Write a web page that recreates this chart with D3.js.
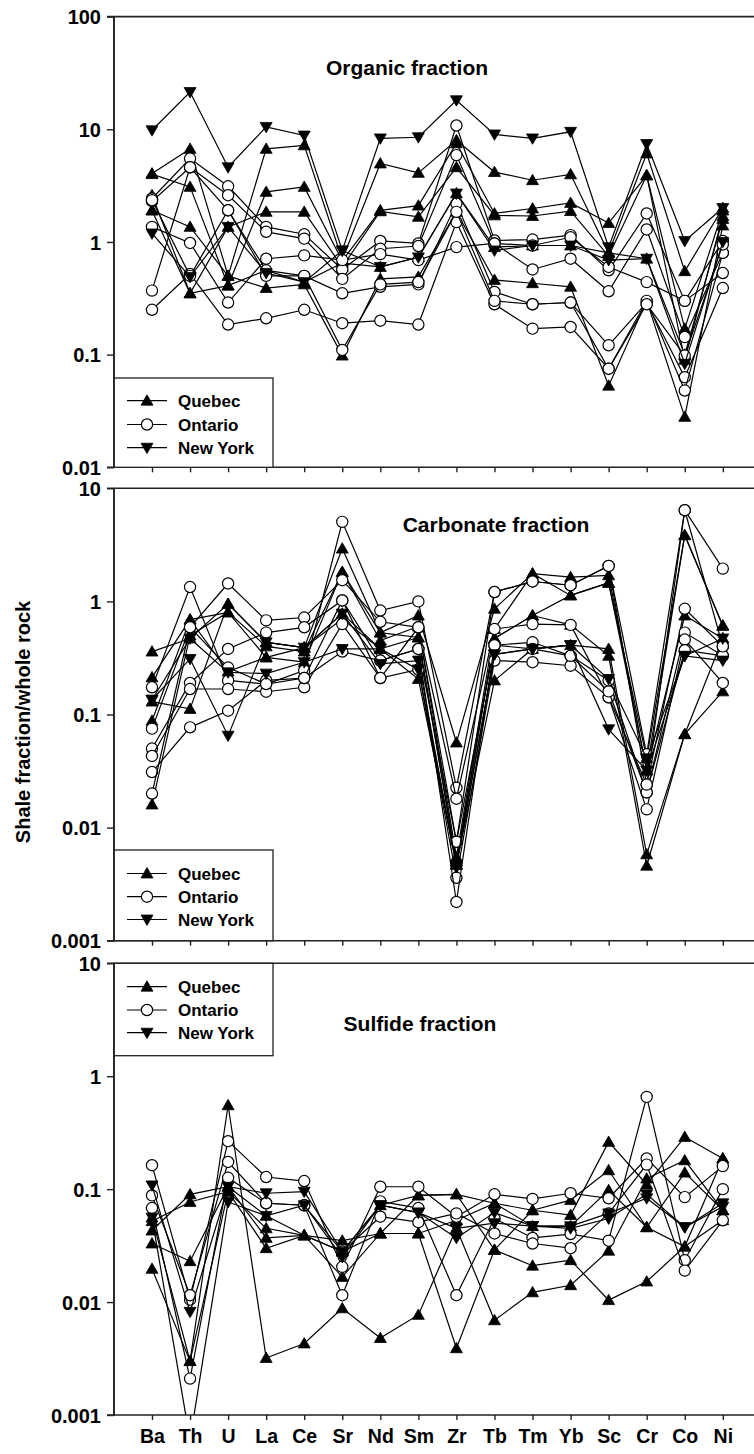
<!DOCTYPE html>
<html>
<head>
<meta charset="utf-8">
<script src="https://cdn.jsdelivr.net/npm/d3@7"></script>
<style>
  html, body { margin: 0; padding: 0; background: #fff; }
  svg { display: block; }
  text { font-family: "Liberation Sans", Arial, Helvetica, sans-serif; font-weight: bold; fill: #000; }
</style>
</head>
<body>
<svg id="chart" width="754" height="1454"></svg>
<script>
// Elements along the x axis
const elements = ["Ba","Th","U","La","Ce","Sr","Nd","Sm","Zr","Tb","Tm","Yb","Sc","Cr","Co","Ni"];

// Organic fraction: shale fraction / whole rock, one row per sample
const organicQuebec = [
  [4.05, 6.7, 0.50, 6.7, 7.2, 0.70, 4.97, 4.1, 8.0, 4.17, 3.53, 3.98, 0.80, 6.1, 0.55, 2.0],
  [4.0, 3.08, 0.41, 2.78, 3.08, 0.68, 1.91, 2.1, 7.5, 1.79, 1.98, 2.22, 1.47, 3.9, 0.17, 1.9],
  [2.6, 0.35, 1.36, 1.85, 1.85, 0.60, 1.87, 1.67, 4.6, 1.72, 1.70, 1.88, 0.75, 3.9, 0.09, 1.7],
  [1.91, 1.36, 0.50, 0.39, 0.42, 0.098, 0.47, 0.49, 1.85, 0.46, 0.43, 0.40, 0.053, 0.30, 0.028, 1.4],
  [1.9, 0.35, 0.41, 0.56, 0.44, 0.65, 0.60, 0.73, 2.7, 0.90, 0.93, 0.93, 0.80, 0.71, 0.10, 1.6]
];
const organicOntario = [
  [2.43, 5.5, 3.12, 1.36, 1.17, 0.57, 1.02, 0.97, 10.8, 1.03, 1.05, 1.15, 0.56, 1.79, 0.30, 1.02],
  [2.3, 4.6, 2.6, 1.23, 1.07, 0.47, 0.87, 0.92, 5.9, 0.97, 0.57, 0.71, 0.365, 1.29, 0.143, 0.80],
  [1.36, 0.98, 0.29, 0.71, 0.76, 0.69, 0.78, 0.69, 0.90, 0.97, 0.93, 1.10, 0.60, 0.44, 0.30, 0.53],
  [0.37, 4.6, 1.91, 0.56, 0.50, 0.35, 0.40, 0.42, 2.19, 0.36, 0.28, 0.29, 0.121, 0.29, 0.063, 0.39],
  [0.25, 0.52, 0.185, 0.21, 0.25, 0.19, 0.20, 0.185, 1.5, 0.28, 0.17, 0.176, 0.075, 0.30, 0.048, 0.80],
  [2.35, 0.50, 1.91, 0.50, 0.50, 0.11, 0.42, 0.44, 1.85, 0.30, 0.28, 0.29, 0.075, 0.28, 0.098, 0.95]
];
const organicNewYork = [
  [9.8, 21.4, 4.6, 10.5, 8.8, 0.84, 8.3, 8.5, 18.1, 9.0, 8.3, 9.5, 0.90, 7.4, 1.02, 2.0],
  [1.19, 0.49, 1.36, 0.53, 0.44, 0.84, 0.60, 0.73, 2.69, 0.84, 0.93, 0.93, 0.69, 0.71, 0.083, 1.0]
];

// Carbonate fraction
const carbonateQuebec = [
  [0.36, 0.47, 0.95, 0.435, 0.39, 2.93, 0.53, 0.75, 0.0565, 0.86, 1.76, 1.64, 1.70, 0.032, 3.85, 0.61],
  [0.213, 0.69, 0.80, 0.32, 0.29, 1.82, 0.53, 0.48, 0.005, 0.47, 0.75, 1.13, 1.46, 0.032, 0.75, 0.47],
  [0.13, 0.112, 0.95, 0.435, 0.39, 0.78, 0.38, 0.206, 0.0047, 0.20, 0.38, 0.41, 0.38, 0.0058, 0.067, 0.16],
  [0.088, 0.69, 0.24, 0.32, 0.39, 0.70, 0.38, 0.48, 0.0047, 0.47, 0.75, 0.62, 0.33, 0.0046, 0.067, 0.47],
  [0.016, 0.50, 0.80, 0.40, 0.36, 1.82, 0.45, 0.60, 0.0055, 0.57, 1.76, 1.13, 1.46, 0.041, 3.85, 0.61]
];
const carbonateOntario = [
  [0.174, 1.34, 0.20, 0.186, 0.245, 5.05, 0.83, 1.0, 0.0225, 1.21, 1.5, 1.39, 2.06, 0.0445, 6.4, 1.95],
  [0.075, 0.59, 1.44, 0.68, 0.72, 1.54, 0.66, 0.59, 0.018, 0.57, 0.63, 0.62, 0.142, 0.024, 0.86, 0.40],
  [0.05, 0.19, 0.38, 0.53, 0.59, 1.02, 0.30, 0.38, 0.0075, 0.41, 0.435, 0.33, 0.20, 0.0205, 0.53, 0.33],
  [0.043, 0.168, 0.168, 0.159, 0.174, 0.63, 0.21, 0.25, 0.0036, 0.30, 0.29, 0.27, 0.142, 0.0145, 0.46, 0.19],
  [0.031, 0.077, 0.108, 0.20, 0.21, 0.36, 0.30, 0.38, 0.0022, 0.41, 0.38, 0.33, 0.16, 0.0205, 0.37, 0.33],
  [0.02, 0.59, 0.26, 0.186, 0.21, 1.02, 0.21, 0.59, 0.0075, 1.21, 1.5, 1.39, 2.06, 0.024, 6.4, 0.40]
];
const carbonateNewYork = [
  [0.135, 0.47, 0.236, 0.23, 0.29, 0.38, 0.38, 0.25, 0.0047, 0.34, 0.38, 0.41, 0.206, 0.041, 0.33, 0.30],
  [0.135, 0.31, 0.065, 0.435, 0.39, 0.78, 0.28, 0.30, 0.0045, 0.34, 0.38, 0.41, 0.074, 0.032, 0.33, 0.47]
];

// Sulfide fraction
const sulfideQuebec = [
  [0.043, 0.09, 0.105, 0.058, 0.039, 0.028, 0.072, 0.088, 0.09, 0.075, 0.065, 0.059, 0.262, 0.11, 0.29, 0.187],
  [0.0197, 0.003, 0.553, 0.0032, 0.0043, 0.0088, 0.0048, 0.0077, 0.045, 0.0069, 0.0122, 0.0141, 0.0285, 0.124, 0.18, 0.065],
  [0.052, 0.077, 0.095, 0.045, 0.039, 0.035, 0.0405, 0.0405, 0.0039, 0.029, 0.021, 0.0235, 0.0104, 0.0152, 0.031, 0.053],
  [0.033, 0.023, 0.105, 0.037, 0.039, 0.0167, 0.0405, 0.0405, 0.053, 0.075, 0.047, 0.047, 0.098, 0.046, 0.14, 0.065],
  [0.056, 0.003, 0.095, 0.030, 0.039, 0.028, 0.0405, 0.088, 0.09, 0.029, 0.065, 0.08, 0.147, 0.046, 0.031, 0.187]
];
const sulfideOntario = [
  [0.163, 0.0105, 0.266, 0.128, 0.118, 0.0205, 0.105, 0.105, 0.057, 0.09, 0.082, 0.092, 0.083, 0.187, 0.085, 0.16],
  [0.088, 0.0115, 0.174, 0.075, 0.072, 0.0115, 0.078, 0.068, 0.0115, 0.055, 0.037, 0.04, 0.035, 0.656, 0.0235, 0.10],
  [0.068, 0.0021, 0.126, 0.075, 0.072, 0.028, 0.057, 0.051, 0.061, 0.0405, 0.033, 0.03, 0.061, 0.165, 0.019, 0.053]
];
const sulfideNewYork = [
  [0.108, 0.0082, 0.105, 0.092, 0.095, 0.028, 0.072, 0.062, 0.037, 0.062, 0.047, 0.047, 0.061, 0.083, 0.046, 0.075],
  [0.056, 0.0006, 0.077, 0.058, 0.072, 0.025, 0.072, 0.062, 0.045, 0.05, 0.047, 0.045, 0.055, 0.09, 0.046, 0.07]
];

// Tick values and labels for each panel
const organicTicks = [0.01, 0.1, 1, 10, 100];
const organicTickLabels = ["0.01", "0.1", "1", "10", "100"];
const lowerTicks = [0.001, 0.01, 0.1, 1, 10];
const lowerTickLabels = ["0.001", "0.01", "0.1", "1", "10"];

const legendNames = ["Quebec", "Ontario", "New York"];

const svg = d3.select("#chart");
const W = 754;
const plotLeft = 114;
const plotRight = 762;   // frame runs past the right edge of the page

const x = d3.scalePoint().domain(elements).range([152, 722.8]);

const panels = [
  { title: "Organic fraction", titleX: 407, titleY: 67,
    domain: [0.01, 100], range: [467.3, 16.6], ticks: organicTicks, labels: organicTickLabels,
    series: [organicQuebec, organicOntario, organicNewYork],
    legend: { top: 378, bottom: 467.3, rows: [400.7, 424.5, 447.7] }, showX: false },
  { title: "Carbonate fraction", titleX: 496, titleY: 524,
    domain: [0.001, 10], range: [940.7, 488.3], ticks: lowerTicks, labels: lowerTickLabels,
    series: [carbonateQuebec, carbonateOntario, carbonateNewYork],
    legend: { top: 850, bottom: 940.7, rows: [873.5, 896.7, 919.5] }, showX: false },
  { title: "Sulfide fraction", titleX: 420, titleY: 1023,
    domain: [0.001, 10], range: [1415, 963.3], ticks: lowerTicks, labels: lowerTickLabels,
    series: [sulfideQuebec, sulfideOntario, sulfideNewYork],
    legend: { top: 963.3, bottom: 1055.7, rows: [986.7, 1010, 1032.7] }, showX: true }
];

const triUp = d3.symbol().type(d3.symbolTriangle).size(62);

function drawMarker(g, kind, cx, cy) {
  if (kind === 1) {
    g.append("circle").attr("cx", cx).attr("cy", cy).attr("r", 5.6)
      .attr("fill", "#fff").attr("stroke", "#000").attr("stroke-width", 1.2);
  } else {
    const rot = kind === 2 ? 180 : 0;
    const dy = kind === 2 ? -1 : 1;
    g.append("path").attr("d", triUp())
      .attr("transform", `translate(${cx},${cy + dy}) rotate(${rot})`)
      .attr("fill", "#000").attr("stroke", "#000").attr("stroke-width", 0.8);
  }
}

panels.forEach((p, pi) => {
  const y = d3.scaleLog().domain(p.domain).range(p.range);
  const top = p.range[1], bottom = p.range[0];
  const g = svg.append("g");

  const clipId = "clip" + pi;
  svg.append("defs").append("clipPath").attr("id", clipId)
    .append("rect").attr("x", plotLeft).attr("y", top).attr("width", W - plotLeft + 20).attr("height", bottom - top);

  // data lines and markers
  const data = g.append("g").attr("clip-path", `url(#${clipId})`);
  const line = d3.line().x((d, i) => x(elements[i])).y(d => y(d));
  p.series.forEach((group, kind) => {
    group.forEach(row => {
      data.append("path").attr("d", line(row)).attr("fill", "none")
        .attr("stroke", "#000").attr("stroke-width", 1.2);
      row.forEach((v, i) => drawMarker(data, kind, x(elements[i]), y(v)));
    });
  });

  // frame: top line and left axis
  g.append("line").attr("x1", plotLeft).attr("x2", plotRight).attr("y1", top).attr("y2", top)
    .attr("stroke", "#222").attr("stroke-width", 1.6);

  const yAxis = d3.axisLeft(y).tickValues(p.ticks).tickSize(7).tickPadding(6)
    .tickFormat((d, i) => p.labels[i]);
  const ya = g.append("g").attr("transform", `translate(${plotLeft},0)`).call(yAxis);
  ya.select(".domain").attr("stroke", "#222").attr("stroke-width", 1.6).attr("d", `M-7,${bottom}H0V${top}H-7`);
  ya.selectAll(".tick line").attr("stroke", "#222").attr("stroke-width", 1.4);
  ya.selectAll(".tick text").style("font-size", "20px").style("font-family", "Liberation Sans, Arial, sans-serif")
    .style("font-weight", "bold").attr("fill", "#000").attr("dy", "0.36em");

  // bottom axis with outward ticks
  const xAxis = d3.axisBottom(x).tickSize(5).tickPadding(9);
  const xa = g.append("g").attr("transform", `translate(0,${bottom})`).call(xAxis);
  xa.select(".domain").attr("stroke", "#222").attr("stroke-width", 1.6).attr("d", `M${plotLeft},0H${plotRight}`);
  xa.selectAll(".tick line").attr("stroke", "#222").attr("stroke-width", 1.4);
  if (p.showX) {
    xa.selectAll(".tick text").style("font-size", "19.5px").style("font-family", "Liberation Sans, Arial, sans-serif")
      .style("font-weight", "bold").attr("fill", "#000");
  } else {
    xa.selectAll(".tick text").remove();
  }

  // panel title
  g.append("text").attr("x", p.titleX).attr("y", p.titleY).attr("dy", "0.36em")
    .attr("text-anchor", "middle").style("font-size", "21px").text(p.title);

  // legend
  const L = p.legend;
  const lg = g.append("g");
  lg.append("rect").attr("x", plotLeft).attr("y", L.top).attr("width", 159).attr("height", L.bottom - L.top)
    .attr("fill", "#fff").attr("stroke", "#222").attr("stroke-width", 1.3);
  legendNames.forEach((name, k) => {
    const ry = L.rows[k];
    lg.append("line").attr("x1", 127).attr("x2", 167).attr("y1", ry).attr("y2", ry)
      .attr("stroke", "#000").attr("stroke-width", 1.2);
    drawMarker(lg, k, 147, ry);
    lg.append("text").attr("x", 178).attr("y", ry).attr("dy", "0.36em")
      .style("font-size", "17px").text(name);
  });
  // redraw the left axis line over the legend box edge
  g.append("line").attr("x1", plotLeft).attr("x2", plotLeft).attr("y1", top).attr("y2", bottom)
    .attr("stroke", "#222").attr("stroke-width", 1.6);
});

// shared y axis title
svg.append("text")
  .attr("transform", "translate(23,722) rotate(-90)")
  .attr("text-anchor", "middle").attr("dy", "0.36em")
  .style("font-size", "20px").text("Shale fraction/whole rock");
</script>
</body>
</html>
